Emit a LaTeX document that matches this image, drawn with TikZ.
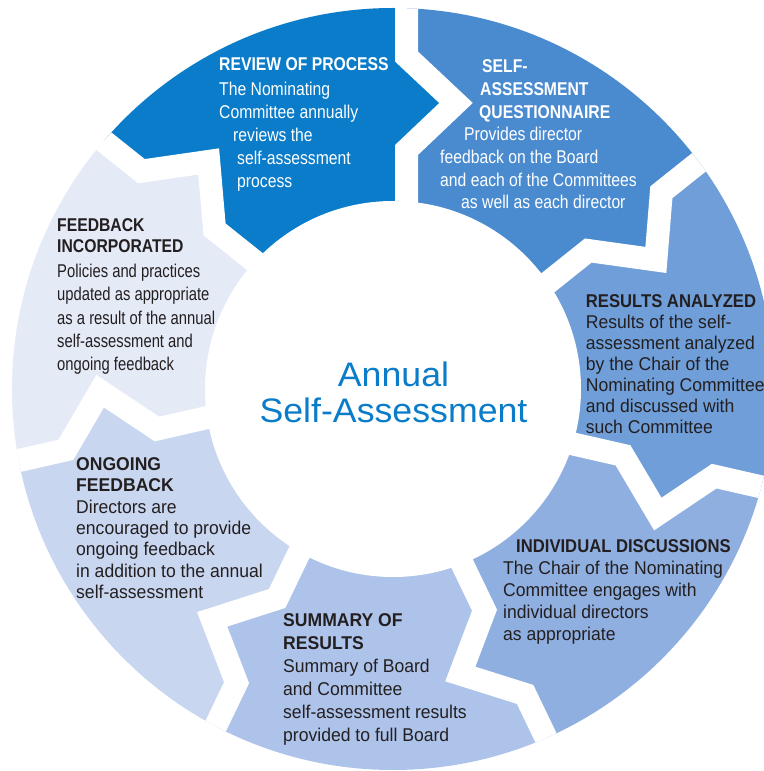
\documentclass[tikz,border=0pt]{standalone}
\usepackage{fontspec}
\setmainfont{Liberation Sans}
\newfontfamily\narrowf{Liberation Sans}[FakeStretch=0.8]
\newfontfamily\condf{Liberation Sans}[FakeStretch=0.85]
\newfontfamily\midf{Liberation Sans}[FakeStretch=0.9]
\newfontfamily\normf{Liberation Sans}[FakeStretch=0.95]
\newfontfamily\bigf{Liberation Sans}[FakeStretch=1.05]
\usetikzlibrary{calc}

\definecolor{revblue}{HTML}{0A7CC9}
\definecolor{qblue}{HTML}{4A8BD0}
\definecolor{anblue}{HTML}{6F9ED9}
\definecolor{indblue}{HTML}{8FAFE0}
\definecolor{sumblue}{HTML}{AEC3EA}
\definecolor{ongblue}{HTML}{C9D6F0}
\definecolor{incblue}{HTML}{E5EAF7}
\definecolor{inkgray}{HTML}{231F20}

\newcommand{\gappath}[1]{($(#1:430)+(#1-90:13.5)$) -- ($(#1:332.5)+(#1-90:13.5)$) -- ($(#1:286)+(#1-90:63)$) -- ($(#1:239)+(#1-90:13.5)$) -- ($(#1:150)+(#1-90:13.5)$)}
\newcommand{\gappathback}[1]{($(#1:150)+(#1-90:13.5)$) -- ($(#1:239)+(#1-90:13.5)$) -- ($(#1:286)+(#1-90:63)$) -- ($(#1:332.5)+(#1-90:13.5)$) -- ($(#1:430)+(#1-90:13.5)$)}

\begin{document}
\begin{tikzpicture}[x=1pt,y=1pt,
	gap/.style={draw=white, line width=23pt, line join=miter},
	lbl/.style={anchor=base west, inner sep=0pt, align=left}]
	
	\useasboundingbox (-393,-382) rectangle (370,389);
	
	\begin{scope}
		\clip (0,0) circle (381);
		\foreach \col [count=\i from 0] in {revblue,qblue,anblue,indblue,sumblue,ongblue,incblue}{
			\pgfmathsetmacro\a{141.4286-51.4286*\i}
			\pgfmathsetmacro\b{\a-51.4286}
			\pgfmathsetmacro\m{\a-25.7143}
			\fill[\col] \gappath{\a} -- (0,0) -- \gappathback{\b} -- (\m:480) -- cycle;
		}
		\foreach \a in {90,141.4286,192.8571,244.2857,295.7143,347.1429,38.5714}
			\draw[gap] \gappath{\a};
		\fill[white] (0,0) circle (188);
	\end{scope}
	
	\node[align=center, inner sep=0pt, anchor=base, text=revblue, font=\bigf\fontsize{34}{36}\selectfont] (core) at (0.5,-33.7) {Annual\\Self-Assessment};
	
	\node[lbl, text=white, font=\condf\fontsize{18.5}{23}\selectfont] (review) at (-174,201) {\textbf{REVIEW OF PROCESS}\\[2pt]The Nominating\\Committee annually\\\hspace*{14pt}reviews the\\\hspace*{18pt}self-assessment\\\hspace*{18pt}process};
	\node[lbl, text=white, font=\condf\fontsize{18.5}{22.7}\selectfont] (questionnaire) at (47,180) {\hspace*{42pt}\textbf{SELF-}\\\hspace*{40pt}\textbf{ASSESSMENT}\\\hspace*{39pt}\textbf{QUESTIONNAIRE}\\\hspace*{24pt}Provides director\\feedback on the Board\\and each of the Committees\\\hspace*{21pt}as well as each director};
	\node[lbl, text=inkgray, font=\normf\fontsize{18.5}{20.9}\selectfont] (analyzed) at (192.7,-44) {{\midf\bfseries RESULTS ANALYZED}\\Results of the self-\\assessment analyzed\\by the Chair of the\\Nominating Committee\\and discussed with\\such Committee};
	\node[lbl, text=inkgray, font=\normf\fontsize{18.5}{22}\selectfont] (discussions) at (110,-251.7) {\hspace*{13pt}{\midf\bfseries INDIVIDUAL DISCUSSIONS}\\The Chair of the Nominating\\Committee engages with\\individual directors\\as appropriate};
	\node[lbl, text=inkgray, font=\normf\fontsize{18.5}{22.9}\selectfont] (summary) at (-110,-352) {\textbf{SUMMARY OF}\\\textbf{RESULTS}\\Summary of Board\\and Committee\\self-assessment results\\provided to full Board};
	\node[lbl, text=inkgray, font=\normf\fontsize{18.5}{21.3}\selectfont] (ongoing) at (-317,-209.3) {\textbf{ONGOING}\\\textbf{FEEDBACK}\\Directors are\\encouraged to provide\\ongoing feedback\\in addition to the annual\\self-assessment};
	\node[lbl, text=inkgray, font=\narrowf\fontsize{18.5}{23.4}\selectfont] (incorporated) at (-336,18) {{\condf\bfseries FEEDBACK}\\[-3pt]{\condf\bfseries INCORPORATED}\\[1.6pt]Policies and practices\\updated as appropriate\\as a result of the annual\\self-assessment and\\ongoing feedback};
	
\end{tikzpicture}
\end{document}
